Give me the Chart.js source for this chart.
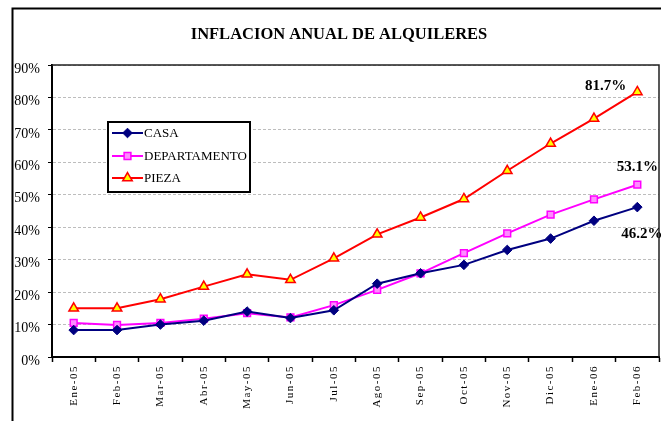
<!DOCTYPE html>
<html>
<head>
<meta charset="utf-8">
<script src="https://cdn.jsdelivr.net/npm/chart.js@4.4.0/dist/chart.umd.min.js"></script>
<style>
  html, body { margin: 0; padding: 0; background: #fff; }
</style>
</head>
<body>
<canvas id="inflChart" width="661" height="421"></canvas>
<script>
const meses = ['Ene-05', 'Feb-05', 'Mar-05', 'Abr-05', 'May-05', 'Jun-05', 'Jul-05',
               'Ago-05', 'Sep-05', 'Oct-05', 'Nov-05', 'Dic-05', 'Ene-06', 'Feb-06'];
const casa = [8.3, 8.3, 10.0, 11.2, 14.0, 12.0, 14.4, 22.6, 25.8, 28.4, 33.0, 36.5, 42.0, 46.2];
const departamento = [10.5, 9.9, 10.5, 11.8, 13.5, 12.2, 16.0, 20.7, 25.8, 32.0, 38.1, 43.9, 48.6, 53.1];
const pieza = [15.0, 15.0, 17.8, 21.7, 25.5, 23.8, 30.4, 37.8, 43.0, 48.7, 57.4, 65.8, 73.5, 81.7];
const titulo = 'INFLACION ANUAL DE ALQUILERES';

const serif = 'Liberation Serif';

// offsets of the end-value labels (dx, dy, align), one per dataset
const endLabels = [
    { dx: -16, dy: 27, align: 'left' },
    { dx: 0, dy: -18, align: 'center' },
    { dx: -11, dy: -6, align: 'right' }
];

const deco = {
    id: 'deco',
    beforeDraw(chart) {
        const ctx = chart.ctx;
        ctx.save();
        ctx.fillStyle = '#fff';
        ctx.fillRect(0, 0, chart.width, chart.height);
        ctx.strokeStyle = '#000';
        ctx.lineWidth = 2;
        ctx.beginPath();
        ctx.moveTo(12.5, chart.height);
        ctx.lineTo(12.5, 8.5);
        ctx.lineTo(chart.width, 8.5);
        ctx.stroke();
        // title
        ctx.fillStyle = '#000';
        ctx.font = 'bold 16.5px ' + serif;
        ctx.textAlign = 'center';
        ctx.textBaseline = 'middle';
        ctx.fillText(titulo, 339, 35);
        ctx.restore();
    },
    beforeDatasetsDraw(chart) {
        const ctx = chart.ctx;
        const a = chart.chartArea;
        ctx.save();
        ctx.strokeStyle = '#222';
        ctx.lineWidth = 1.5;
        ctx.beginPath();
        ctx.moveTo(a.left, a.top);
        ctx.lineTo(a.right, a.top);
        ctx.lineTo(a.right, a.bottom);
        ctx.stroke();
        ctx.restore();
    },
    afterDatasetsDraw(chart) {
        const ctx = chart.ctx;
        ctx.save();
        // end value labels
        ctx.font = 'bold 15px ' + serif;
        ctx.fillStyle = '#000';
        ctx.textBaseline = 'middle';
        chart.data.datasets.forEach((ds, i) => {
            const meta = chart.getDatasetMeta(i);
            const last = meta.data[meta.data.length - 1];
            const o = endLabels[i];
            ctx.textAlign = o.align;
            ctx.fillText(ds.data[ds.data.length - 1].toFixed(1) + '%', last.x + o.dx, last.y + o.dy);
        });

        // legend box
        const bx = 108, by = 122, bw = 142, bh = 70;
        ctx.fillStyle = '#fff';
        ctx.fillRect(bx, by, bw, bh);
        ctx.strokeStyle = '#000';
        ctx.lineWidth = 2;
        ctx.strokeRect(bx, by, bw, bh);
        ctx.font = '13px ' + serif;
        ctx.textAlign = 'left';
        const rows = [133, 156, 178];
        chart.data.datasets.forEach((ds, i) => {
            const y = rows[i];
            ctx.strokeStyle = ds.borderColor;
            ctx.lineWidth = 2;
            ctx.beginPath();
            ctx.moveTo(112, y);
            ctx.lineTo(143, y);
            ctx.stroke();
            ctx.fillStyle = ds.pointBackgroundColor;
            ctx.lineWidth = ds.pointBorderWidth;
            if (Chart.helpers && Chart.helpers.drawPoint) {
                Chart.helpers.drawPoint(ctx, {
                    pointStyle: ds.pointStyle, radius: ds.pointRadius,
                    rotation: 0, borderWidth: ds.pointBorderWidth
                }, 127.5, y);
            }
            ctx.fillStyle = '#000';
            ctx.fillText(ds.label, 144, y + 0.5);
        });
        ctx.restore();
        // spaced-out month labels (x ticks are drawn after this, z = 1)
        ctx.letterSpacing = '1.5px';
    },
    afterDraw(chart) {
        chart.ctx.letterSpacing = '0px';
    }
};

new Chart(document.getElementById('inflChart'), {
    type: 'line',
    data: {
        labels: meses,
        datasets: [{
            label: 'CASA',
            data: casa,
            borderColor: '#000080',
            pointBackgroundColor: '#000080',
            pointBorderColor: '#000080',
            pointStyle: 'rectRot',
            pointRadius: 4.8,
            pointBorderWidth: 1,
            borderWidth: 2
        }, {
            label: 'DEPARTAMENTO',
            data: departamento,
            borderColor: '#ff00ff',
            pointBackgroundColor: '#ff8cff',
            pointBorderColor: '#ff00ff',
            pointStyle: 'rect',
            pointRadius: 4.8,
            pointBorderWidth: 1.5,
            borderWidth: 2
        }, {
            label: 'PIEZA',
            data: pieza,
            borderColor: '#ff0000',
            pointBackgroundColor: '#ffff00',
            pointBorderColor: '#ff0000',
            pointStyle: 'triangle',
            pointRadius: 5.5,
            pointBorderWidth: 1.5,
            borderWidth: 2
        }]
    },
    options: {
        responsive: false,
        animation: false,
        devicePixelRatio: 1,
        layout: { autoPadding: false, padding: { left: 0, right: 2, top: 65, bottom: 0 } },
        elements: { line: { tension: 0 } },
        plugins: {
            legend: { display: false },
            tooltip: { enabled: false },
            title: { display: false }
        },
        scales: {
            x: {
                offset: true,
                grid: { offset: true, drawOnChartArea: false, tickColor: '#000', tickLength: 5, tickWidth: 1.5 },
                border: { color: '#000', width: 2 },
                ticks: {
                    autoSkip: false, maxRotation: 90, minRotation: 90,
                    color: '#000', font: { family: serif, size: 11 }, padding: 3, z: 1
                },
                afterFit(s) { s.height = 64; s.paddingLeft = 0; s.paddingRight = 0; }
            },
            y: {
                min: 0,
                max: 90,
                ticks: {
                    stepSize: 10,
                    callback: v => v + '%',
                    color: '#000',
                    font: { family: serif, size: 14 },
                    padding: 8,
                    labelOffset: 4
                },
                grid: { color: '#bdbdbd', tickColor: '#000', tickLength: 4, lineWidth: 1 },
                border: { color: '#000', width: 2, dash: [3, 2] },
                afterFit(s) { s.width = 52; }
            }
        }
    },
    plugins: [deco]
});
</script>
</body>
</html>
